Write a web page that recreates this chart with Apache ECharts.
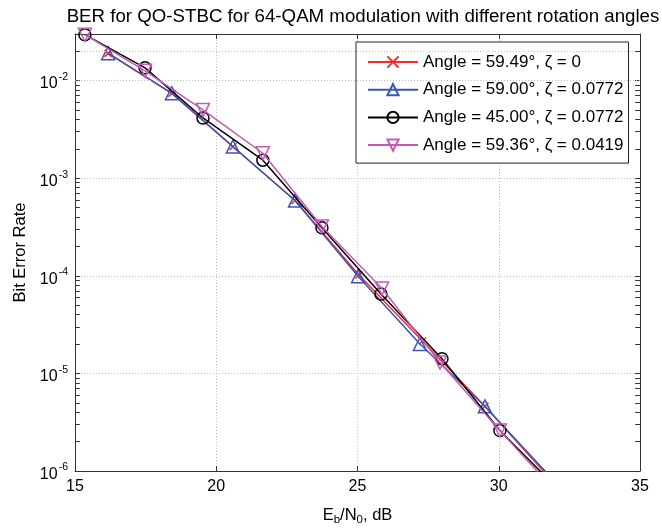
<!DOCTYPE html>
<html>
<head>
<meta charset="utf-8">
<script src="https://cdn.jsdelivr.net/npm/echarts@6/dist/echarts.min.js"></script>
<style>
html, body { margin: 0; padding: 0; background: #fff; }
#main { width: 662px; height: 531px; }
</style>
</head>
<body>
<div id="main"></div>
<script>
// Eb/N0 (dB) and BER
var redX   = [16.17, 18.43, 20.59, 22.79, 25.05, 27.30, 29.51, 31.75];
var redY   = [0.0190, 0.0074, 0.00210, 5.9e-4, 1.02e-4, 2.15e-5, 4.6e-6, 8.8e-7];
var blueX  = [16.17, 18.43, 20.59, 22.79, 25.02, 27.21, 29.51, 31.80];
var blueY  = [0.0191, 0.0074, 0.00211, 5.9e-4, 9.9e-5, 2.0e-5, 4.6e-6, 8.9e-7];
var blackX = [15.35, 17.48, 19.53, 21.65, 23.74, 25.83, 27.99, 30.04, 32.10];
var blackY = [0.0295, 0.0135, 0.00414, 0.00153, 3.1e-4, 6.5e-5, 1.41e-5, 2.6e-6, 6.5e-7];
var magX   = [15.35, 17.48, 19.53, 21.65, 23.74, 25.87, 27.92, 30.04, 32.10];
var magY   = [0.0295, 0.0126, 0.0050, 0.0018, 3.2e-4, 7.4e-5, 1.29e-5, 2.6e-6, 5.8e-7];

var seriesNames = [
  'Angle = 59.49°, ζ = 0',
  'Angle = 59.00°, ζ = 0.0772',
  'Angle = 45.00°, ζ = 0.0772',
  'Angle = 59.36°, ζ = 0.0419'
];

var xMin = 15, xMax = 35, xStep = 5;
var yMin = 1e-6, yMax = 0.03;
var minorY = [];
for (var d = -6; d <= -2; d++) {
  for (var k = 2; k <= 9; k++) {
    var v = k * Math.pow(10, d);
    if (v < yMax) minorY.push(v);
  }
}

function pairs(xs, ys) {
  return xs.map(function (x, i) { return [x, ys[i]]; });
}

var myChart = echarts.init(document.getElementById('main'));

var gridLineStyle = { color: '#bdbdbd', width: 1, type: [1, 2] };
var boxColor = '#333';

// minor grid lines + minor ticks on left / right edges
var minorLines = [];
minorY.forEach(function (v) {
  minorLines.push({ yAxis: v, lineStyle: gridLineStyle });
  minorLines.push([{ coord: [xMin, v], lineStyle: { color: boxColor, width: 1, type: 'solid' } }, { coord: [xMin + 0.17, v] }]);
  minorLines.push([{ coord: [xMax - 0.17, v], lineStyle: { color: boxColor, width: 1, type: 'solid' } }, { coord: [xMax, v] }]);
});

var font = 'Liberation Sans, Arial, sans-serif';

option = {
  animation: false,
  backgroundColor: '#fff',
  title: {
    text: 'BER for QO-STBC for 64-QAM modulation with different rotation angles',
    left: 358,
    top: 2,
    textAlign: 'center',
    textStyle: { fontFamily: font, fontSize: 18.7, fontWeight: 'normal', color: '#000' }
  },
  grid: { left: 75, right: 22, top: 34, bottom: 53, containLabel: false },
  legend: {
    orient: 'vertical',
    left: 356,
    top: 42,
    backgroundColor: '#fff',
    borderColor: '#222',
    borderWidth: 1,
    padding: [11.5, 5, 9.5, 11],
    itemWidth: 50,
    itemHeight: 14,
    itemGap: 10.7,
    textStyle: { fontFamily: font, fontSize: 17, color: '#000' },
    data: seriesNames
  },
  xAxis: [
    {
      type: 'value', min: xMin, max: xMax, interval: xStep,
      name: '{t|E}{s|b}{t|/N}{s|0}{t|, dB}',
      nameLocation: 'middle', nameGap: 33,
      nameTextStyle: {
        rich: {
          t: { fontFamily: font, fontSize: 16.5, color: '#000' },
          s: { fontFamily: font, fontSize: 11.5, color: '#000', padding: [10, 0, 0, 0] }
        }
      },
      axisLine: { show: true, onZero: false, lineStyle: { color: boxColor, width: 1 } },
      axisTick: { show: true, inside: true, length: 5, lineStyle: { color: boxColor } },
      axisLabel: { fontFamily: font, fontSize: 16, color: '#000', margin: 8 },
      splitLine: { show: true, lineStyle: gridLineStyle }
    },
    {
      type: 'value', position: 'top', min: xMin, max: xMax, interval: xStep,
      axisLine: { show: true, onZero: false, lineStyle: { color: boxColor, width: 1 } },
      axisTick: { show: true, inside: true, length: 5, lineStyle: { color: boxColor } },
      axisLabel: { show: false },
      splitLine: { show: false }
    }
  ],
  yAxis: [
    {
      type: 'log', logBase: 10, min: yMin, max: yMax,
      name: 'Bit Error Rate',
      nameLocation: 'middle', nameGap: 41,
      nameTextStyle: { fontFamily: font, fontSize: 16.5, color: '#000' },
      axisLine: { show: true, onZero: false, lineStyle: { color: boxColor, width: 1 } },
      axisTick: { show: true, inside: true, length: 5, lineStyle: { color: boxColor } },
      axisLabel: {
        margin: 7,
        formatter: function (v) {
          var lg = Math.log10(v);
          var e = Math.round(lg);
          if (Math.abs(lg - e) > 1e-6) return '';
          return '{b|10}{e|' + e + '}';
        },
        rich: {
          b: { fontFamily: font, fontSize: 16, color: '#000', padding: [7, 0, 0, 0] },
          e: { fontFamily: font, fontSize: 10.5, color: '#000', padding: [0, 0, 7, 1] }
        }
      },
      splitLine: { show: true, lineStyle: gridLineStyle }
    },
    {
      type: 'log', logBase: 10, min: yMin, max: yMax, position: 'right',
      axisLine: { show: true, onZero: false, lineStyle: { color: boxColor, width: 1 } },
      axisTick: { show: true, inside: true, length: 5, lineStyle: { color: boxColor } },
      axisLabel: { show: false },
      splitLine: { show: false }
    }
  ],
  series: [
    {
      name: 'minor-grid',
      type: 'line',
      data: [],
      silent: true,
      z: 1,
      markLine: {
        silent: true,
        symbol: 'none',
        label: { show: false },
        animation: false,
        data: minorLines
      }
    },
    {
      name: seriesNames[0],
      type: 'line',
      data: pairs(redX, redY),
      color: '#f52a2a',
      lineStyle: { color: '#f52a2a', width: 1.5 },
      symbol: 'path://M0,0L10,10M10,0L0,10',
      symbolSize: 7,
      itemStyle: { color: 'none', borderColor: '#f52a2a', borderWidth: 1.5 },
      z: 3
    },
    {
      name: seriesNames[1],
      type: 'line',
      data: pairs(blueX, blueY),
      color: '#3a55b8',
      lineStyle: { color: '#3a55b8', width: 1.5 },
      symbol: 'triangle',
      symbolSize: 13,
      itemStyle: { color: 'none', borderColor: '#3a55b8', borderWidth: 1.5 },
      z: 4
    },
    {
      name: seriesNames[2],
      type: 'line',
      data: pairs(blackX, blackY),
      color: '#000',
      lineStyle: { color: '#000', width: 1.5 },
      symbol: 'circle',
      symbolSize: 12,
      itemStyle: { color: 'none', borderColor: '#000', borderWidth: 1.5 },
      z: 5
    },
    {
      name: seriesNames[3],
      type: 'line',
      data: pairs(magX, magY),
      color: '#c25bb4',
      lineStyle: { color: '#c25bb4', width: 1.5 },
      symbol: 'triangle',
      symbolRotate: 180,
      symbolSize: 13,
      itemStyle: { color: 'none', borderColor: '#c25bb4', borderWidth: 1.5 },
      z: 6
    }
  ]
};

myChart.setOption(option);
</script>
</body>
</html>
